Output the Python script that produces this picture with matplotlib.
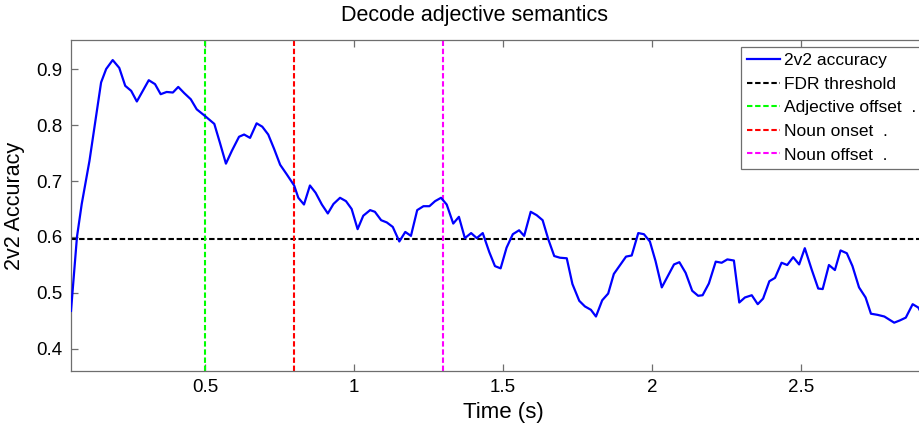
import matplotlib
matplotlib.use("Agg")
import matplotlib.pyplot as plt
from matplotlib.patches import Rectangle

plt.rcParams['font.family'] = ['Liberation Sans', 'DejaVu Sans']

# ---- data ----
time_s = [0.050, 0.070, 0.086, 0.112, 0.151, 0.168, 0.190, 0.212, 0.232, 0.252,
          0.271, 0.291, 0.311, 0.332, 0.351, 0.371, 0.392, 0.410, 0.430, 0.452,
          0.472, 0.500, 0.531, 0.550, 0.570, 0.590, 0.614, 0.631, 0.651, 0.673,
          0.692, 0.712, 0.732, 0.752, 0.774, 0.799, 0.813, 0.832, 0.852, 0.871,
          0.892, 0.912, 0.931, 0.953, 0.973, 0.992, 1.012, 1.031, 1.054, 1.070,
          1.091, 1.110, 1.130, 1.152, 1.172, 1.191, 1.212, 1.233, 1.253, 1.272,
          1.292, 1.311, 1.333, 1.352, 1.372, 1.393, 1.412, 1.432, 1.454, 1.473,
          1.492, 1.512, 1.533, 1.554, 1.571, 1.593, 1.613, 1.633, 1.652, 1.672,
          1.691, 1.714, 1.733, 1.756, 1.775, 1.795, 1.812, 1.833, 1.853, 1.872,
          1.893, 1.913, 1.932, 1.954, 1.973, 1.993, 2.012, 2.033, 2.053, 2.074,
          2.092, 2.113, 2.135, 2.155, 2.170, 2.191, 2.214, 2.234, 2.253, 2.275,
          2.293, 2.312, 2.335, 2.355, 2.373, 2.394, 2.413, 2.435, 2.454, 2.474,
          2.494, 2.513, 2.536, 2.558, 2.573, 2.594, 2.614, 2.633, 2.654, 2.673,
          2.695, 2.717, 2.735, 2.757, 2.780, 2.813, 2.832, 2.852, 2.875, 2.894,
          2.910]
accuracy = [0.468, 0.600, 0.659, 0.736, 0.876, 0.900, 0.916, 0.902, 0.870, 0.861,
            0.842, 0.861, 0.880, 0.873, 0.855, 0.859, 0.858, 0.868, 0.857, 0.846,
            0.828, 0.816, 0.802, 0.768, 0.731, 0.754, 0.779, 0.783, 0.777, 0.803,
            0.797, 0.783, 0.757, 0.729, 0.712, 0.692, 0.670, 0.658, 0.692, 0.679,
            0.658, 0.642, 0.659, 0.670, 0.664, 0.650, 0.614, 0.638, 0.648, 0.645,
            0.630, 0.626, 0.618, 0.592, 0.609, 0.602, 0.648, 0.655, 0.655, 0.664,
            0.670, 0.658, 0.624, 0.636, 0.598, 0.607, 0.598, 0.607, 0.573, 0.548,
            0.544, 0.581, 0.605, 0.612, 0.602, 0.645, 0.639, 0.630, 0.596, 0.566,
            0.563, 0.562, 0.516, 0.486, 0.476, 0.470, 0.458, 0.487, 0.499, 0.534,
            0.550, 0.565, 0.567, 0.607, 0.605, 0.592, 0.557, 0.510, 0.530, 0.551,
            0.555, 0.536, 0.504, 0.495, 0.496, 0.517, 0.556, 0.554, 0.560, 0.558,
            0.483, 0.492, 0.496, 0.480, 0.490, 0.521, 0.527, 0.554, 0.550, 0.564,
            0.551, 0.580, 0.542, 0.508, 0.507, 0.550, 0.541, 0.576, 0.571, 0.548,
            0.510, 0.492, 0.463, 0.461, 0.458, 0.447, 0.451, 0.456, 0.480, 0.474,
            0.458]
fdr_threshold = 0.597
event_times = [0.5, 0.8, 1.3]
event_labels = ["Adjective offset  .", "Noun onset  .", "Noun offset  ."]
event_colors = ["#00ff00", "#ff0000", "#ff00ff"]
x_ticks = [0.5, 1, 1.5, 2, 2.5]
x_tick_labels = ["0.5", "1", "1.5", "2", "2.5"]
y_ticks = [0.4, 0.5, 0.6, 0.7, 0.8, 0.9]
y_tick_labels = ["0.4", "0.5", "0.6", "0.7", "0.8", "0.9"]

W, H = 920, 432
fig = plt.figure(figsize=(W / 100, H / 100), dpi=100)
ax_l, ax_r, ax_t, ax_b = 71, 935, 40, 371
ax = fig.add_axes([ax_l / W, 1 - ax_b / H, (ax_r - ax_l) / W, (ax_b - ax_t) / H])

dash = (0, (2.6, 1.3))
ax.plot(time_s, accuracy, color="#0000ff", lw=1.6, label="2v2 accuracy", zorder=3)
ax.axhline(fdr_threshold, color="black", lw=1.5, ls=dash, label="FDR threshold", zorder=2)
for t, lab, c in zip(event_times, event_labels, event_colors):
    ax.axvline(t, color=c, lw=1.5, ls=dash, label=lab, zorder=2)

ax.set_xlim(0.05, 2.95)
ax.set_ylim(0.3607, 0.9518)
ax.set_xticks(x_ticks)
ax.set_xticklabels(x_tick_labels)
ax.set_yticks(y_ticks)
ax.set_yticklabels(y_tick_labels)

spine_c = "#6e6e6e"
for s in ax.spines.values():
    s.set_color(spine_c)
    s.set_linewidth(0.9)
ax.tick_params(direction="in", length=5, width=0.9, color=spine_c,
               top=True, right=True, labelsize=13.5, pad=6, labelcolor="black")

ax.set_xlabel("Time (s)", fontsize=16, labelpad=4)
ax.set_ylabel("2v2 Accuracy", fontsize=15.5, labelpad=8)

fig.text(475 / W, 1 - 16 / H, "Decode adjective semantics", fontsize=15.5,
         ha="center", va="center")

leg = ax.legend(loc="upper left", bbox_to_anchor=(741 / W, 1 - 46.7 / H),
                bbox_transform=fig.transFigure, fontsize=12.5, frameon=False,
                handlelength=1.9, handletextpad=0.2, labelspacing=0.49,
                borderpad=0.35, borderaxespad=0)
leg.set_zorder(10)

# legend frame: extends past the right edge of the figure, as in the reference
fig.canvas.draw()
bb = leg.get_window_extent().transformed(fig.transFigure.inverted())
frame = Rectangle((bb.x0, bb.y0), 930 / W - bb.x0, bb.height,
                  transform=fig.transFigure, facecolor="white",
                  edgecolor=spine_c, linewidth=0.9, zorder=9, clip_on=False)
ax.add_patch(frame)

fig.savefig("out.png", dpi=100)
